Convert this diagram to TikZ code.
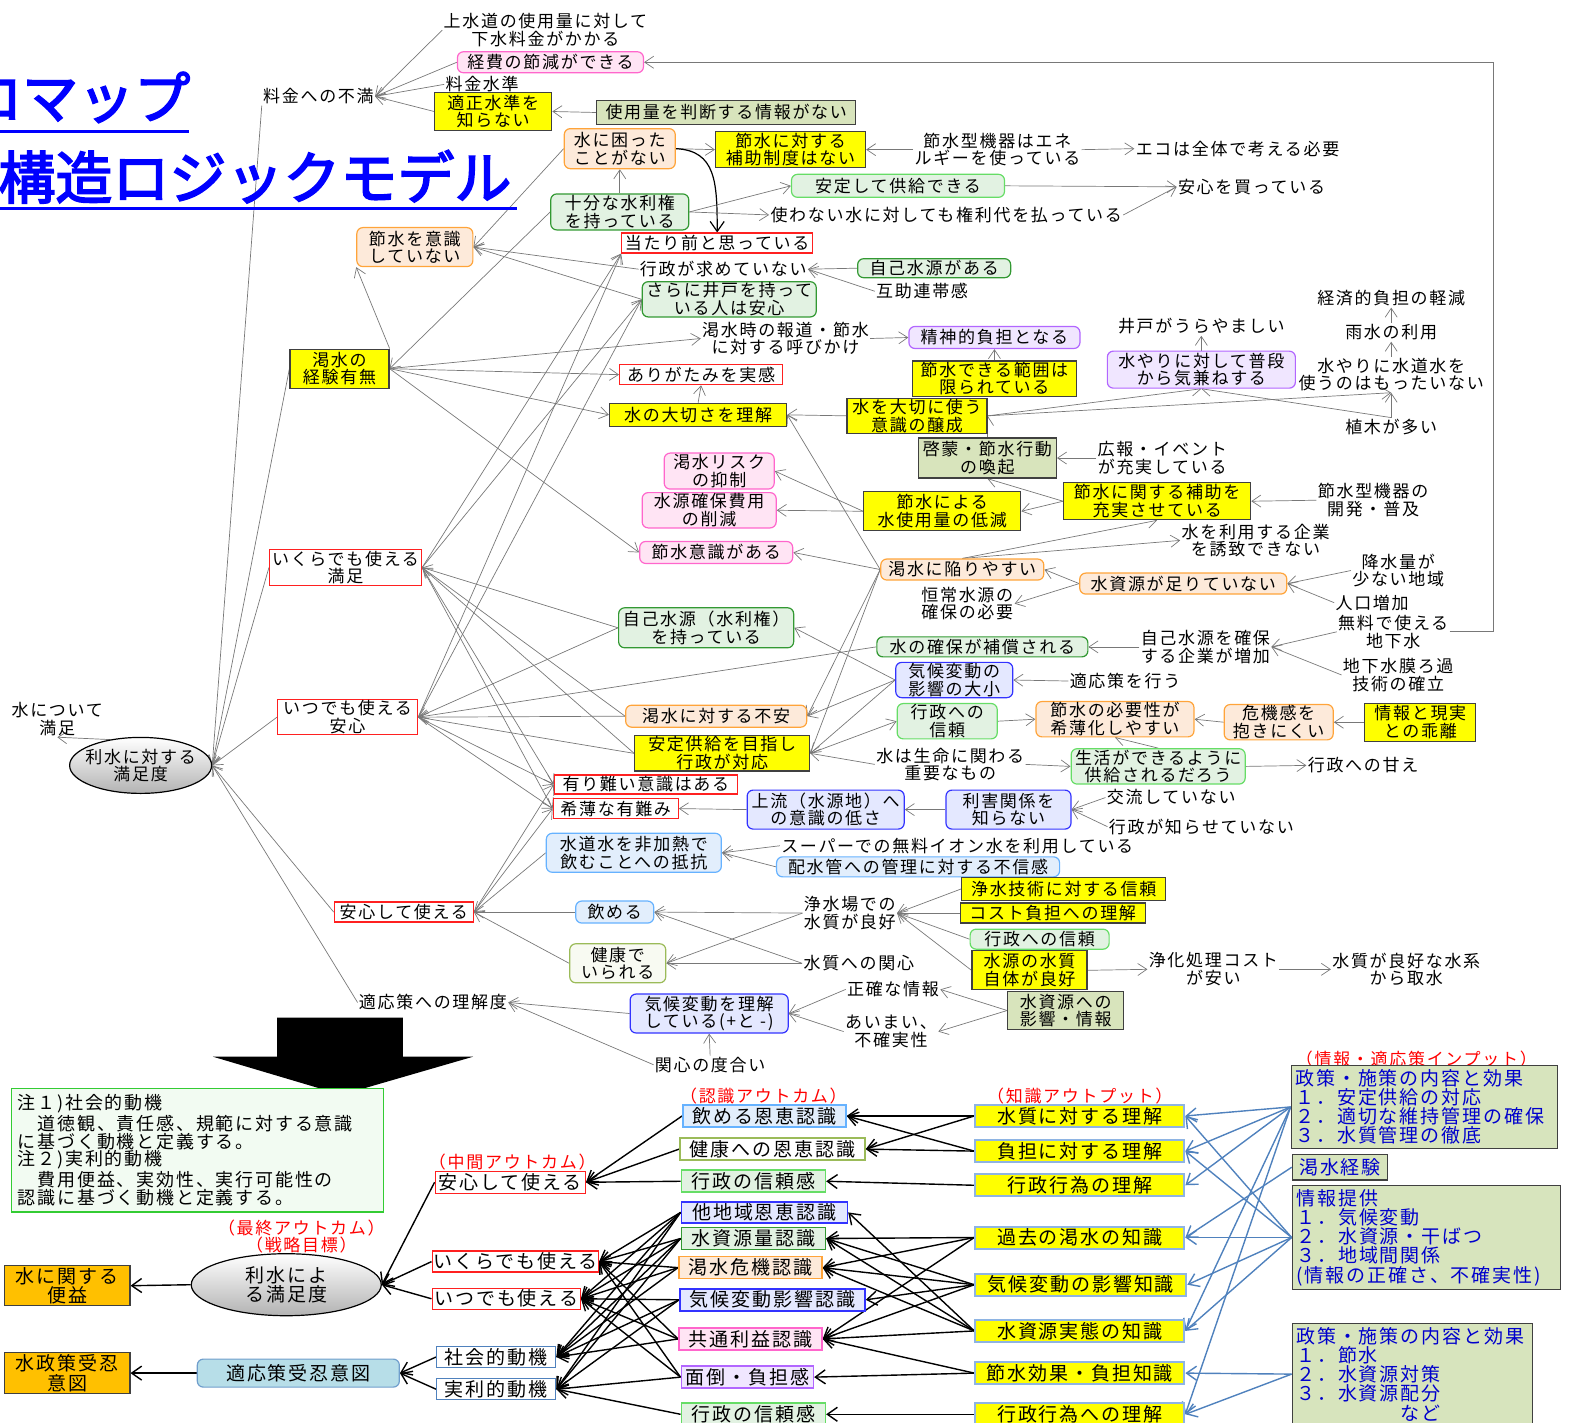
\documentclass[tikz,border=0pt]{standalone}
\usepackage{fontspec}
\usetikzlibrary{arrows.meta,shapes.geometric}
\newfontfamily\jp{Noto Sans CJK JP}[LetterSpace=10]
\newfontfamily\jpt{Noto Sans CJK JP}[FakeBold=3]
\pgfdeclarelayer{bg}
\pgfsetlayers{bg,main}
\definecolor{yel}{HTML}{FFFF00}
\definecolor{dk}{HTML}{404040}
\definecolor{redb}{HTML}{FF2020}
\definecolor{orbd}{HTML}{FFA43A}
\definecolor{orf}{HTML}{FDEADA}
\definecolor{pkb}{HTML}{FF66CC}
\definecolor{pkf}{HTML}{FFE4F4}
\definecolor{vib}{HTML}{B266FF}
\definecolor{vif}{HTML}{F0E6FF}
\definecolor{dgb}{HTML}{339933}
\definecolor{lgb}{HTML}{66DD66}
\definecolor{gf}{HTML}{E2F2E2}
\definecolor{blb}{HTML}{3333FF}
\definecolor{blf}{HTML}{E4E8FF}
\definecolor{lbb}{HTML}{66B2FF}
\definecolor{lbf}{HTML}{E2EEFC}
\definecolor{olb}{HTML}{9BBB59}
\definecolor{olf}{HTML}{F8FAF2}
\definecolor{gyf}{HTML}{D8E4BC}
\definecolor{lnc}{HTML}{787878}
\definecolor{knb}{HTML}{8EB4E3}
\definecolor{inp}{HTML}{D7E4BD}
\definecolor{orx}{HTML}{FFC000}
\definecolor{tcol}{HTML}{B7DEE8}
\definecolor{noteb}{HTML}{33CC33}
\definecolor{notef}{HTML}{F2FBF2}
\definecolor{bluel}{HTML}{4F81BD}
\definecolor{intext}{HTML}{0000CC}
\tikzset{
 T/.style={font=\jp\fontsize{8.5}{8.8}\selectfont, align=center, inner sep=0.5pt},
 B/.style={font=\jp\fontsize{9.5}{9.8}\selectfont, align=center, inner sep=0.5pt},
 sz/.style 2 args={minimum width=#1*0.5pt, minimum height=#2*0.5pt},
 yb/.style={T, draw=dk, fill=yel, line width=0.6pt},
 rb/.style={T, draw=redb, fill=white, line width=0.6pt},
 rnd/.style={T, rounded corners=3pt, line width=0.6pt},
 ob/.style={rnd, draw=orbd, fill=orf},
 pb/.style={rnd, draw=pkb, fill=pkf},
 vb/.style={rnd, draw=vib, fill=vif},
 dg/.style={rnd, draw=dgb, fill=gf},
 lg/.style={rnd, draw=lgb, fill=gf},
 bb/.style={rnd, draw=blb, fill=blf},
 lb/.style={rnd, draw=lbb, fill=lbf},
 ol/.style={rnd, draw=olb, fill=olf},
 gy/.style={T, draw=dk, fill=gyf, line width=0.6pt},
 el/.style={T, shape=ellipse, draw=black, line width=0.6pt, top color=white, bottom color=black!30, inner xsep=-6pt, inner ysep=0pt},
 ln/.style={draw=lnc, line width=0.35pt, -{Straight Barb[length=4.5pt,width=6pt]}},
 bl/.style={draw=black, line width=0.7pt, -{Straight Barb[length=5pt,width=7pt]}},
 bu/.style={draw=bluel, line width=0.7pt, -{Straight Barb[length=5pt,width=7pt]}},
 orb/.style={B, draw=dk, fill=orx, line width=0.7pt},
 tb/.style={B, rounded corners=3pt, draw=lbb!60!gray, fill=tcol, line width=0.6pt},
 mr/.style={B, draw=redb, fill=white, line width=0.7pt},
 mb/.style={B, draw=bluel, fill=white, line width=0.7pt},
 cb/.style={B, line width=0.8pt},
 kb/.style={B, draw=knb, fill=yel, line width=1pt},
 ib/.style={B, draw=dk, fill=inp, text=intext, align=left, inner sep=2pt, line width=0.7pt, font=\jp\fontsize{9.5}{9.6}\selectfont},
 rl/.style={T, text=red}
}
\begin{document}
\begin{tikzpicture}[x=0.5022pt,y=-0.5022pt]
\useasboundingbox (0,0) rectangle (1568,1416);
% title
\node[font=\jpt\fontsize{28}{30}\selectfont, text=blue, anchor=west, inner sep=0pt] (t1) at (-34,97) {ロマップ};
\node[font=\jpt\fontsize{28.5}{30}\selectfont, text=blue, anchor=west, inner sep=0pt] (t2) at (-2,176) {構造ロジックモデル};
\draw[blue, line width=1.5pt] (0,131) -- (188,131);
\draw[blue, line width=1.5pt] (0,208) -- (515,208);
% top nodes
\node[T] (n1) at (543,30) {上水道の使用量に対して\\下水料金がかかる};
\node[pb, sz={186}{21}] (n2) at (548,62) {経費の節減ができる};
\node[T] (n3) at (480,84) {料金水準};
\node[yb, sz={117}{38}] (n4) at (491,111) {適正水準を\\知らない};
\node[gy, sz={259}{24}] (n5) at (723,112) {使用量を判断する情報がない};
\node[T] (n6) at (317,96) {料金への不満};
\node[ob, sz={111}{40}] (n7) at (617,148) {水に困った\\ことがない};
\node[yb, sz={150}{36}] (n8) at (787,149) {節水に対する\\補助制度はない};
\node[T] (n9) at (993,149) {節水型機器はエネ\\ルギーを使っている};
\node[T] (n10) at (1232,148) {エコは全体で考える必要};
\node[lg, sz={213}{23}] (n11) at (894,185) {安定して供給できる};
\node[T] (n12) at (1246,186) {安心を買っている};
\node[dg, sz={138}{36}] (n13) at (617,211) {十分な水利権\\を持っている};
\node[T] (n14) at (942,214) {使わない水に対しても権利代を払っている};
\node[ob, sz={116}{39}] (n15) at (413,246) {節水を意識\\していない};
\node[rb, sz={191}{20}] (n16) at (714,242) {当たり前と思っている};
\node[T] (n17) at (720,268) {行政が求めていない};
\node[dg, sz={153}{19}] (n18) at (930,267) {自己水源がある};
\node[T] (n19) at (918,290) {互助連帯感};
\node[dg, sz={174}{34}] (n20) at (726,298) {さらに井戸を持って\\いる人は安心};
\node[T] (n21) at (1385,297) {経済的負担の軽減};
\node[T] (n22) at (1196,325) {井戸がうらやましい};
\node[T] (n23) at (1385,331) {雨水の利用};
\node[T] (n24) at (782,337) {渇水時の報道・節水\\に対する呼びかけ};
\node[vb, sz={171}{22}] (n25) at (990,336) {精神的負担となる};
\node[vb, sz={188}{37}] (n26) at (1196,368) {水やりに対して普段\\から気兼ねする};
\node[T] (n27) at (1385,373) {水やりに水道水を\\使うのはもったいない};
\node[yb, sz={99}{39}] (n28) at (338,367) {渇水の\\経験有無};
\node[rb, sz={163}{20}] (n29) at (698,373) {ありがたみを実感};
\node[yb, sz={164}{35}] (n30) at (990,377) {節水できる範囲は\\限られている};
\node[yb, sz={177}{23}] (n31) at (695,413) {水の大切さを理解};
\node[yb, sz={140}{35}] (n32) at (913,414) {水を大切に使う\\意識の醸成};
\node[T] (n33) at (1385,425) {植木が多い};
\node[gy, sz={138}{40}] (n34) at (983,456) {啓蒙・節水行動\\の喚起};
\node[T] (n35) at (1157,456) {広報・イベント\\が充実している};
\node[pb, sz={110}{36}] (n36) at (716,469) {渇水リスク\\の抑制};
\node[pb, sz={134}{35}] (n37) at (706,508) {水源確保費用\\の削減};
\node[yb, sz={157}{39}] (n38) at (938,509) {節水による\\水使用量の低減};
\node[yb, sz={187}{37}] (n39) at (1152,499) {節水に関する補助を\\充実させている};
\node[T] (n40) at (1367,498) {節水型機器の\\開発・普及};
\node[T] (n41) at (1250,538) {水を利用する企業\\を誘致できない};
\node[pb, sz={153}{22}] (n42) at (713,550) {節水意識がある};
\node[rb, sz={152}{36}] (n43) at (344,565) {いくらでも使える\\満足};
\node[ob, sz={163}{21}] (n44) at (958,567) {渇水に陥りやすい};
\node[ob, sz={207}{21}] (n45) at (1178,581) {水資源が足りていない};
\node[T] (n46) at (1392,568) {降水量が\\少ない地域};
\node[T] (n47) at (963,601) {恒常水源の\\確保の必要};
\node[T] (n48) at (1366,600) {人口増加};
\node[dg, sz={175}{40}] (n49) at (703,625) {自己水源（水利権）\\を持っている};
\node[T] (n50) at (1387,629) {無料で使える\\地下水};
\node[dg, sz={211}{20}] (n51) at (978,644) {水の確保が補償される};
\node[T] (n52) at (1200,644) {自己水源を確保\\する企業が増加};
\node[T] (n53) at (1392,672) {地下水膜ろ過\\技術の確立};
\node[bb, sz={117}{35}] (n54) at (950,677) {気候変動の\\影響の大小};
\node[T] (n55) at (1120,678) {適応策を行う};
\node[T] (n56) at (57,716) {水について\\満足};
\node[rb, sz={140}{35}] (n57) at (346,714) {いつでも使える\\安心};
\node[ob, sz={181}{22}] (n58) at (713,713) {渇水に対する不安};
\node[lg, sz={100}{33}] (n59) at (943,718) {行政への\\信頼};
\node[ob, sz={158}{35}] (n60) at (1110,716) {節水の必要性が\\希薄化しやすい};
\node[ob, sz={109}{35}] (n61) at (1273,719) {危機感を\\抱きにくい};
\node[yb, sz={111}{38}] (n62) at (1414,719) {情報と現実\\との乖離};
\node[yb, sz={175}{35}] (n63) at (719,750) {安定供給を目指し\\行政が対応};
\node[T] (n64) at (946,761) {水は生命に関わる\\重要なもの};
\node[lg, sz={174}{33}] (n65) at (1153,763) {生活ができるように\\供給されるだろう};
\node[T] (n66) at (1357,762) {行政への甘え};
\node[el, sz={142}{56}] (n67) at (140,762) {利水に対する\\満足度};
\node[rb, sz={183}{19}] (n68) at (643,781) {有り難い意識はある};
\node[rb, sz={125}{20}] (n69) at (613,805) {希薄な有難み};
\node[bb, sz={157}{39}] (n70) at (822,806) {上流（水源地）へ\\の意識の低さ};
\node[bb, sz={125}{39}] (n71) at (1004,806) {利害関係を\\知らない};
\node[T] (n72) at (1166,794) {交流していない};
\node[T] (n73) at (1196,823) {行政が知らせていない};
\node[lb, sz={175}{39}] (n74) at (631,849) {水道水を非加熱で\\飲むことへの抵抗};
\node[T] (n75) at (953,842) {スーパーでの無料イオン水を利用している};
\node[lb, sz={283}{20}] (n76) at (914,863) {配水管への管理に対する不信感};
\node[yb, sz={204}{23}] (n77) at (1059,885) {浄水技術に対する信頼};
\node[rb, sz={139}{20}] (n78) at (402,908) {安心して使える};
\node[lb, sz={78}{22}] (n79) at (612,908) {飲める};
\node[T] (n80) at (846,909) {浄水場での\\水質が良好};
\node[yb, sz={185}{20}] (n81) at (1048,909) {コスト負担への理解};
\node[lg, sz={139}{20}] (n82) at (1035,935) {行政への信頼};
\node[ol, sz={96}{39}] (n83) at (615,959) {健康で\\いられる};
\node[T] (n84) at (855,959) {水質への関心};
\node[yb, sz={115}{39}] (n85) at (1025,966) {水源の水質\\自体が良好};
\node[T] (n86) at (1208,965) {浄化処理コスト\\が安い};
\node[T] (n87) at (1400,965) {水質が良好な水系\\から取水};
\node[T] (n88) at (889,985) {正確な情報};
\node[T] (n89) at (431,998) {適応策への理解度};
\node[bb, sz={158}{39}] (n90) at (706,1009) {気候変動を理解\\している(+と -)};
\node[gy, sz={116}{38}] (n91) at (1061,1006) {水資源への\\影響・情報};
\node[T] (n92) at (887,1027) {あいまい、\\不確実性};
\node[T] (n93) at (707,1060) {関心の度合い};
\coordinate (cR) at (1487,62);
% big arrow
\fill[black] (276,1013) -- (401,1013) -- (401,1052) -- (471,1052) -- (340,1090) -- (212,1052) -- (276,1052) -- cycle;
% bottom nodes
\node[T, draw=noteb, fill=notef, align=left, text width=180pt, inner sep=3pt, line width=0.6pt, font=\jp\fontsize{9}{8.9}\selectfont] (note) at (197,1145) {注１)社会的動機\\　道徳観、責任感、規範に対する意識\\に基づく動機と定義する。\\注２)実利的動機\\　費用便益、実効性、実行可能性の\\認識に基づく動機と定義する。};
\node[rl] (r1) at (300,1231) {（最終アウトカム）\\（戦略目標）};
\node[el, B, sz={190}{62}] (e2) at (285,1279) {利水によ\\る満足度};
\node[orb, sz={125}{40}] (bn1) at (67,1280) {水に関する\\便益};
\node[orb, sz={125}{41}] (bn2) at (67,1367) {水政策受忍\\意図};
\node[tb, sz={202}{28}] (bt) at (297,1367) {適応策受忍意図};
\node[rl] (r2) at (510,1157) {（中間アウトカム）};
\node[mr, sz={150}{22}] (m1) at (508,1177) {安心して使える};
\node[mr, sz={166}{21}] (m2) at (513,1256) {いくらでも使える};
\node[mr, sz={148}{21}] (m3) at (504,1293) {いつでも使える};
\node[mb, sz={119}{21}] (m4) at (494,1351) {社会的動機};
\node[mb, sz={119}{21}] (m5) at (494,1383) {実利的動機};
\node[rl] (r3) at (760,1091) {（認識アウトカム）};
\node[cb, draw=lbb, fill=lbf, sz={163}{22}] (c1) at (761,1111) {飲める恩恵認識};
\node[cb, draw=olb, fill=white, sz={185}{22}] (c2) at (769,1144) {健康への恩恵認識};
\node[cb, draw=lgb, fill=gf, sz={144}{22}] (c3) at (750,1176) {行政の信頼感};
\node[cb, draw=blb, fill=blf, sz={166}{21}] (c4) at (761,1207) {他地域恩恵認識};
\node[cb, draw=dgb, fill=gf, sz={144}{22}] (c5) at (750,1233) {水資源量認識};
\node[cb, draw=orbd, fill=orf, sz={143}{22}] (c6) at (747,1262) {渇水危機認識};
\node[cb, draw=blb, fill=blf, sz={185}{22}] (c7) at (769,1294) {気候変動影響認識};
\node[cb, draw=pkb, fill=pkf, sz={143}{22}] (c8) at (747,1333) {共通利益認識};
\node[cb, draw=vib, fill=vif, sz={132}{22}] (c9) at (744,1371) {面倒・負担感};
\node[cb, draw=lgb, fill=gf, sz={144}{22}] (c10) at (750,1408) {行政の信頼感};
\node[rl] (r4) at (1075,1091) {（知識アウトプット）};
\node[kb, sz={209}{22}] (k1) at (1075,1111) {水質に対する理解};
\node[kb, sz={209}{22}] (k2) at (1075,1146) {負担に対する理解};
\node[kb, sz={209}{22}] (k3) at (1075,1180) {行政行為の理解};
\node[kb, sz={209}{22}] (k4) at (1075,1232) {過去の渇水の知識};
\node[kb, sz={211}{22}] (k5) at (1076,1279) {気候変動の影響知識};
\node[kb, sz={209}{22}] (k6) at (1075,1325) {水資源実態の知識};
\node[kb, sz={209}{22}] (k7) at (1075,1367) {節水効果・負担知識};
\node[kb, sz={209}{22}] (k8) at (1075,1408) {行政行為への理解};
\node[rl] (r5) at (1410,1054) {（情報・適応策インプット）};
\node[ib, text width=129pt] (i1) at (1418,1102) {政策・施策の内容と効果\\１．安定供給の対応\\２．適切な維持管理の確保\\３．水質管理の徹底};
\node[ib, sz={95}{21}] (i2) at (1334,1162) {渇水経験};
\node[ib, text width=130pt] (i3) at (1420,1232) {情報提供\\１．気候変動\\２．水資源・干ばつ\\３．地域間関係\\(情報の正確さ、不確実性)};
\node[ib, text width=116pt] (i4) at (1406,1368) {政策・施策の内容と効果\\１．節水\\２．水資源対策\\３．水資源配分\\　　　　　など};
% connectors
\begin{pgfonlayer}{bg}
\draw[ln] (n1.west) -- (n6.east);
\draw[ln] (n2.west) -- (n6.east);
\draw[ln] (n3.west) -- (n6.east);
\draw[ln] (n4.west) -- (n6.east);
\draw[ln] (n5.west) -- (n4.east);
\draw[ln] (n50.east) -- (n50.east -| cR) -- (cR) -- (n2.east);
\draw[ln] (n6.south west) -- (n67.east);
\draw[ln] (n28.west) -- (n67.east);
\draw[ln] (n43.west) -- (n67.east);
\draw[ln] (n57.west) -- (n67.east);
\draw[ln] (n78.west) -- (n67.east);
\draw[ln] (n89.west) -- (n67.east);
\draw[ln] (n67.140) -- (n56.south);
\draw[ln] (n7.east) -- (n8.west);
\draw[black, line width=0.6pt, -{Straight Barb[length=5pt,width=7pt]}] (n7.east) .. controls +(40,2) and +(0,-50) .. (n16.north);
\draw[ln] (n9.west) -- (n8.east);
\draw[ln] (n9.east) -- (n10.west);
\draw[ln] (n13.north) -- (n7.south);
\draw[ln] (n13.east) -- (n11.west);
\draw[ln] (n13.east) -- (n14.west);
\draw[ln] (n11.east) -- (n12.west);
\draw[ln] (n14.east) -- (n12.west);
\draw[ln] (n13.west) -- (n28.east);
\draw[ln] (n7.west) -- (n15.east);
\draw[ln] (n17.west) -- (n15.east);
\draw[ln] (n20.west) -- (n15.east);
\draw[ln] (n18.west) -- (n17.east);
\draw[ln] (n19.west) -- (n17.east);
\draw[ln] (n28.north east) -- (n15.south west);
\draw[ln] (n28.east) -- (n24.west);
\draw[ln] (n28.east) -- (n29.west);
\draw[ln] (n28.east) -- (n31.west);
\draw[ln] (n28.east) -- (n42.west);
\draw[ln] (n43.east) -- (n16.south west);
\draw[ln] (n43.east) -- (n20.west);
\draw[ln] (n57.east) -- (n16.south west);
\draw[ln] (n57.east) -- (n20.west);
\draw[ln] (n49.west) -- (n43.east);
\draw[ln] (n58.west) -- (n43.east);
\draw[ln] (n63.west) -- (n43.east);
\draw[ln] (n49.west) -- (n57.east);
\draw[ln] (n51.west) -- (n57.east);
\draw[ln] (n58.west) -- (n57.east);
\draw[ln] (n63.west) -- (n57.east);
\draw[ln] (n43.east) -- (n68.west);
\draw[ln] (n43.east) -- (n69.west);
\draw[ln] (n57.east) -- (n68.west);
\draw[ln] (n57.east) -- (n69.west);
\draw[ln] (n78.east) -- (n68.west);
\draw[ln] (n78.east) -- (n69.west);
\draw[ln] (n79.west) -- (n78.east);
\draw[ln] (n83.west) -- (n78.east);
\draw[ln] (n74.west) -- (n78.east);
\draw[ln] (n32.west) -- (n31.east);
\draw[ln] (n31.north) -- (n29.south);
\draw[ln] (n44.west) -- (n31.east);
\draw[ln] (n44.west) -- (n42.east);
\draw[ln] (n44.west) -- (n58.east);
\draw[ln] (n44.west) -- (n63.east);
\draw[ln] (n38.west) -- (n36.east);
\draw[ln] (n38.west) -- (n37.east);
\draw[ln] (n39.west) -- (n38.east);
\draw[ln] (n39.west) -- (n34.south);
\draw[ln] (n35.west) -- (n34.east);
\draw[ln] (n34.north) -- (n32.east);
\draw[ln] (n32.east) -- (n26.south);
\draw[ln] (n32.east) -- (n27.south);
\draw[ln] (n33.north) -- (n27.south);
\draw[ln] (n33.north) -- (n26.south);
\draw[ln] (n26.north) -- (n22.south);
\draw[ln] (n27.north) -- (n23.south);
\draw[ln] (n23.north) -- (n21.south);
\draw[ln] (n24.east) -- (n25.west);
\draw[ln] (n30.north) -- (n25.south);
\draw[ln] (n62.west) -- (n61.east);
\draw[ln] (n61.west) -- (n60.east);
\draw[ln] (n59.east) -- (n60.west);
\draw[ln] (n65.north) -- (n60.south);
\draw[ln] (n64.east) -- (n65.west);
\draw[ln] (n65.east) -- (n66.west);
\draw[ln] (n64.west) -- (n63.east);
\draw[ln] (n63.east) -- (n59.west);
\draw[ln] (n54.west) -- (n49.east);
\draw[ln] (n54.west) -- (n58.east);
\draw[ln] (n54.west) -- (n63.east);
\draw[ln] (n55.west) -- (n54.east);
\draw[ln] (n52.west) -- (n51.east);
\draw[ln] (n50.west) -- (n52.east);
\draw[ln] (n53.west) -- (n52.east);
\draw[ln] (n45.west) -- (n44.east);
\draw[ln] (n45.west) -- (n47.east);
\draw[ln] (n46.west) -- (n45.east);
\draw[ln] (n48.west) -- (n45.east);
\draw[ln] (n44.north) -- (n39.south);
\draw[ln] (n44.north) -- (n41.west);
\draw[ln] (n40.west) -- (n39.east);
\draw[ln] (n71.west) -- (n70.east);
\draw[ln] (n70.west) -- (n69.east);
\draw[ln] (n72.west) -- (n71.east);
\draw[ln] (n73.west) -- (n71.east);
\draw[ln] (n75.west) -- (n74.east);
\draw[ln] (n76.west) -- (n74.east);
\draw[ln] (n80.west) -- (n79.east);
\draw[ln] (n80.west) -- (n83.east);
\draw[ln] (n84.west) -- (n83.east);
\draw[ln] (n84.west) -- (n79.east);
\draw[ln] (n77.west) -- (n80.east);
\draw[ln] (n81.west) -- (n80.east);
\draw[ln] (n82.west) -- (n80.east);
\draw[ln] (n85.west) -- (n80.east);
\draw[ln] (n85.east) -- (n86.west);
\draw[ln] (n86.east) -- (n87.west);
\draw[ln] (n91.west) -- (n88.east);
\draw[ln] (n91.west) -- (n92.east);
\draw[ln] (n88.west) -- (n90.east);
\draw[ln] (n92.west) -- (n90.east);
\draw[ln] (n93.north) -- (n90.south);
\draw[ln] (n90.west) -- (n89.east);
\draw[ln] (n93.west) -- (n89.east);
% bottom black
\draw[bl] (c1.west) -- (m1.east);
\draw[bl] (c2.west) -- (m1.east);
\draw[bl] (c3.west) -- (m1.east);
\draw[bl] (m1.west) -- (e2.east);
\draw[bl] (m2.west) -- (e2.east);
\draw[bl] (m3.west) -- (e2.east);
\draw[bl] (e2.west) -- (bn1.east);
\draw[bl] (m4.west) -- (bt.east);
\draw[bl] (m5.west) -- (bt.east);
\draw[bl] (bt.west) -- (bn2.east);
\foreach \s/\t in {c4/m2,c4/m3,c4/m4,c4/m5,c5/m2,c5/m3,c5/m4,c5/m5,c6/m2,c6/m3,c6/m4,c7/m3,c7/m4,c7/m5,c8/m2,c8/m3,c8/m4,c9/m2,c9/m3,c9/m5,c10/m5}
  \draw[bl] (\s.west) -- (\t.east);
\foreach \s/\t in {k1/c1,k1/c2,k2/c1,k2/c2,k3/c3,k4/c5,k4/c6,k4/c8,k5/c5,k5/c6,k5/c7,k5/c8,k6/c4,k6/c5,k6/c6,k6/c8,k7/c8,k7/c9,k8/c10}
  \draw[bl] (\s.west) -- (\t.east);
\foreach \s/\t in {i1/k1,i1/k2,i1/k3,i1/k6,i1/k8,i2/k4,i3/k1,i3/k2,i3/k4,i3/k5,i3/k6,i4/k7,i4/k8}
  \draw[bu] (\s.west) -- (\t.east);
\end{pgfonlayer}
\end{tikzpicture}
\end{document}
